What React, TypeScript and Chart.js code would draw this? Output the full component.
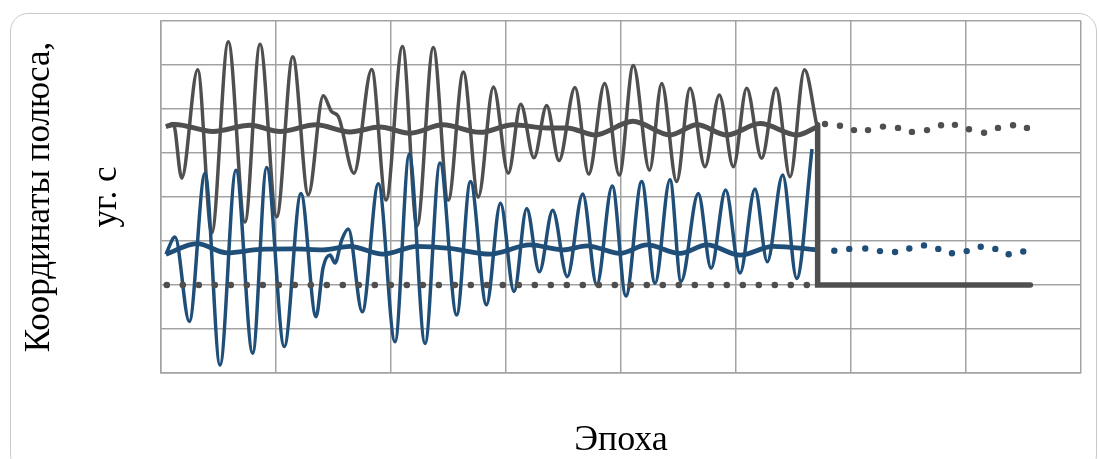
import React, { useEffect, useRef } from "react";
import { Chart, registerables } from "chart.js";

Chart.register(...registerables);

// Axis ranges (no tick labels shown, only the grid)
const xMin = 0;
const xMax = 80;
const xStep = 10;
const yMin = -2;
const yMax = 6;
const yStep = 1;

const xTitle = "Эпоха";
const yTitle = ["Координаты полюса,", "уг. с"];

// Gray oscillating series
const grayOscX = [0.43, 1.07, 1.8, 3.19, 4.41, 5.85, 7.3, 8.61, 10.06, 11.46, 12.81, 14.11, 14.84, 15.42, 16.78, 18.32, 19.57, 21.0, 22.26, 23.68, 24.98, 26.29, 27.59, 28.91, 30.2, 31.28, 32.43, 33.54, 34.61, 36.0, 37.19, 38.58, 39.85, 41.07, 42.48, 43.54, 44.84, 46.0, 47.3, 48.55, 49.77, 50.93, 52.23, 53.48, 54.7, 55.96, 57.02];
const grayOscY = [3.6, 3.67, 2.43, 4.89, 1.18, 5.53, 1.43, 5.47, 1.55, 5.19, 2.05, 4.3, 3.94, 3.83, 2.54, 4.9, 1.93, 5.42, 1.34, 5.4, 1.93, 4.84, 2.0, 4.5, 2.54, 4.11, 2.89, 4.08, 2.83, 4.49, 2.52, 4.58, 2.5, 4.99, 2.61, 4.58, 2.35, 4.47, 2.69, 4.32, 2.69, 4.47, 2.88, 4.47, 2.46, 4.89, 3.64];

// Blue oscillating series
const blueOscX = [0.43, 1.22, 2.46, 3.83, 5.13, 6.52, 7.97, 9.19, 10.72, 12.17, 13.48, 14.09, 14.7, 15.13, 15.71, 16.29, 17.5, 18.9, 20.35, 21.59, 22.96, 24.26, 25.71, 26.91, 28.3, 29.52, 30.7, 31.8, 32.9, 34.06, 35.33, 36.67, 37.89, 39.24, 40.43, 41.8, 42.96, 44.26, 45.22, 46.72, 47.83, 49.1, 50.35, 51.65, 52.72, 54.06, 55.28, 56.61];
const blueOscY = [0.7, 1.09, -0.83, 2.54, -1.82, 2.61, -1.55, 2.67, -1.4, 2.08, -0.72, 0.39, 0.68, 0.5, 1.02, 1.27, -0.61, 2.3, -1.29, 2.97, -1.33, 2.77, -0.68, 2.35, -0.45, 1.86, -0.15, 1.74, 0.3, 1.7, 0.19, 2.07, 0.0, 2.25, -0.25, 2.35, 0.04, 2.39, 0.08, 2.08, 0.38, 2.16, 0.27, 2.18, 0.53, 2.5, 0.15, 3.09];

// Smoothed (mean) series
const grayMeanX = [0.43, 1.22, 4.52, 7.74, 10.35, 13.48, 16.43, 19.04, 21.65, 24.52, 27.74, 30.61, 33.57, 35.3, 37.74, 41.04, 44.26, 46.61, 49.22, 52.09, 55.3, 57.04];
const grayMeanY = [3.6, 3.65, 3.49, 3.63, 3.49, 3.64, 3.48, 3.59, 3.45, 3.64, 3.47, 3.64, 3.57, 3.57, 3.41, 3.72, 3.41, 3.64, 3.41, 3.67, 3.41, 3.59];
const blueMeanX = [0.43, 3.13, 5.74, 8.61, 11.48, 14.09, 16.43, 19.3, 22.26, 25.13, 28.61, 32.09, 34.96, 37.04, 39.91, 42.26, 45.13, 47.48, 50.35, 53.22, 57.1];
const blueMeanY = [0.7, 0.94, 0.73, 0.81, 0.82, 0.8, 0.88, 0.7, 0.88, 0.83, 0.7, 0.91, 0.8, 0.89, 0.72, 0.91, 0.72, 0.91, 0.68, 0.88, 0.8];

// Forecast (dotted) series
const grayFcX = [57.74, 59.04, 60.26, 61.48, 62.78, 64.09, 65.3, 66.61, 67.83, 69.04, 70.26, 71.57, 72.78, 74.09, 75.3];
const grayFcY = [3.66, 3.62, 3.52, 3.52, 3.6, 3.57, 3.48, 3.52, 3.63, 3.64, 3.54, 3.46, 3.57, 3.63, 3.57];
const blueFcX = [58.55, 59.85, 61.24, 62.52, 63.83, 65.07, 66.35, 67.59, 68.78, 70.06, 71.28, 72.55, 73.71, 74.98];
const blueFcY = [0.78, 0.82, 0.83, 0.77, 0.75, 0.83, 0.9, 0.82, 0.72, 0.77, 0.87, 0.82, 0.7, 0.76];

// Dotted zero line and step line
const baseX = [0.5, 57.1];
const baseY = [0, 0];
const stepX = [57.1, 57.1, 75.6];
const stepY = [3.64, 0, 0];

const pts = (xs: number[], ys: number[]) => xs.map((x, i) => ({ x, y: ys[i] }));

const GRAY = "#4f4f4f";
const BLUE = "#1f4e79";
const GRID = "#a3a3a3";
const FONT = "'Liberation Serif', 'Times New Roman', serif";

export default function App() {
  const ref = useRef<HTMLCanvasElement | null>(null);

  useEffect(() => {
    if (!ref.current) return;
    const chart = new Chart(ref.current, {
      type: "line",
      data: {
        datasets: [
          {
            data: pts(stepX, stepY),
            borderColor: GRAY,
            borderWidth: 5.5,
            pointRadius: 0,
            tension: 0,
            borderJoinStyle: "miter",
            borderCapStyle: "round",
          },
          {
            data: pts(grayFcX, grayFcY),
            showLine: false,
            pointRadius: 3.2,
            pointBorderWidth: 0,
            pointBackgroundColor: GRAY,
            borderColor: GRAY,
          },
          {
            data: pts(blueFcX, blueFcY),
            showLine: false,
            pointRadius: 3.2,
            pointBorderWidth: 0,
            pointBackgroundColor: BLUE,
            borderColor: BLUE,
          },
          {
            data: pts(baseX, baseY),
            borderColor: GRAY,
            borderWidth: 6.5,
            borderDash: [0.1, 15.9],
            borderCapStyle: "round",
            pointRadius: 0,
            tension: 0,
          },
          {
            data: pts(grayMeanX, grayMeanY),
            borderColor: GRAY,
            borderWidth: 5,
            pointRadius: 0,
            cubicInterpolationMode: "monotone",
          },
          {
            data: pts(blueMeanX, blueMeanY),
            borderColor: BLUE,
            borderWidth: 4.8,
            pointRadius: 0,
            cubicInterpolationMode: "monotone",
          },
          {
            data: pts(blueOscX, blueOscY),
            borderColor: BLUE,
            borderWidth: 3.5,
            pointRadius: 0,
            cubicInterpolationMode: "monotone",
          },
          {
            data: pts(grayOscX, grayOscY),
            borderColor: GRAY,
            borderWidth: 3.5,
            pointRadius: 0,
            cubicInterpolationMode: "monotone",
          },
        ],
      },
      options: {
        animation: false,
        responsive: false,
        maintainAspectRatio: false,
        layout: { padding: { top: 21, right: 18, left: 0, bottom: 0 } },
        plugins: { legend: { display: false }, tooltip: { enabled: false } },
        scales: {
          x: {
            type: "linear",
            min: xMin,
            max: xMax,
            ticks: { display: false, stepSize: xStep },
            grid: { color: GRID, lineWidth: 1.5, drawTicks: false },
            border: { display: true, color: GRID, width: 1.5 },
            title: {
              display: true,
              text: xTitle,
              color: "#000",
              font: { family: FONT, size: 36, lineHeight: 1 },
              padding: { top: 0, bottom: 0 },
            },
            afterFit: (s: any) => {
              s.height = 86;
            },
          },
          y: {
            type: "linear",
            min: yMin,
            max: yMax,
            ticks: { display: false, stepSize: yStep },
            grid: { color: GRID, lineWidth: 1.5, drawTicks: false },
            border: { display: true, color: GRID, width: 1.5 },
            title: {
              display: true,
              text: yTitle,
              color: "#000",
              font: { family: FONT, size: 35, lineHeight: 1.9 },
              padding: { top: 7, bottom: 0 },
            },
            afterFit: (s: any) => {
              s.width = 161;
            },
          },
        },
      },
    } as any);
    return () => chart.destroy();
  }, []);

  return (
    <div
      style={{
        position: "absolute",
        left: 0,
        top: 0,
        width: 1099,
        height: 459,
        background: "#fff",
        overflow: "hidden",
      }}
    >
      <canvas ref={ref} width={1099} height={459} style={{ position: "absolute", left: 0, top: 0 }} />
      <div
        style={{
          position: "absolute",
          left: 10,
          top: 13,
          width: 1087,
          height: 460,
          border: "1.5px solid #c9c9c9",
          borderRadius: 18,
          boxSizing: "border-box",
          pointerEvents: "none",
        }}
      />
    </div>
  );
}
